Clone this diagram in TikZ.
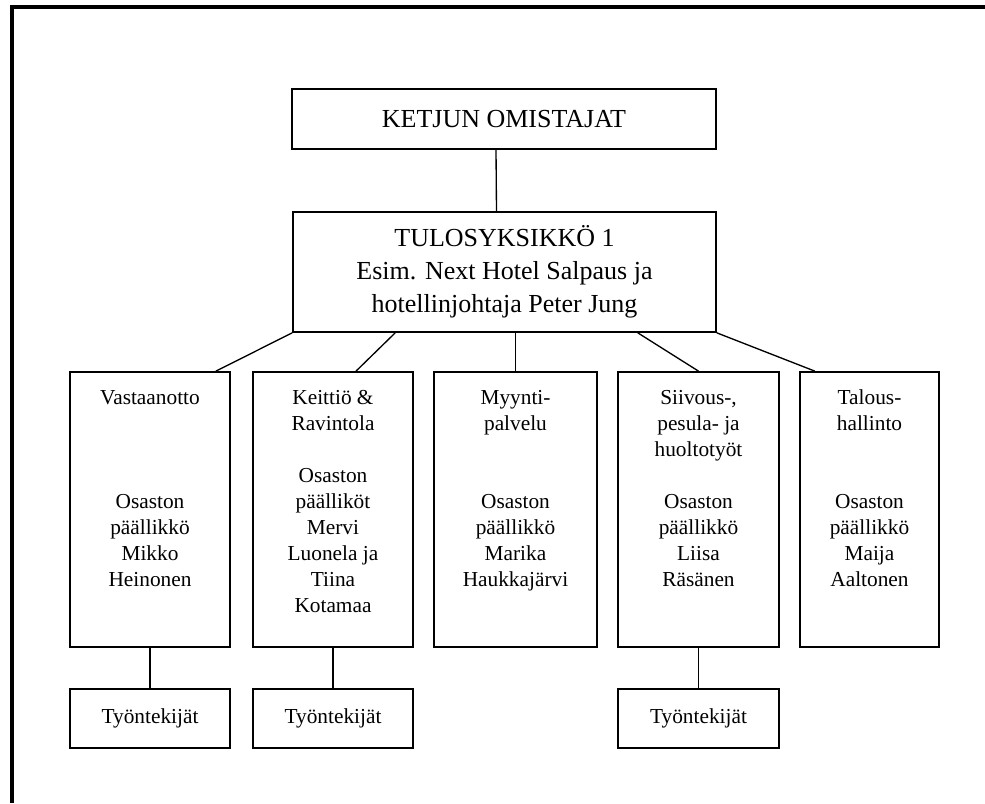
\documentclass[tikz,border=0pt]{standalone}
\usepackage{fontspec}
\setmainfont{Liberation Serif}
\usetikzlibrary{positioning}
\begin{document}
\begin{tikzpicture}[x=0.75pt,y=-0.75pt,
  topbox/.style={draw,line width=1.3pt,align=center,font=\fontsize{19.5}{24.75}\selectfont},
  deptbox/.style={draw,line width=1.3pt,minimum height=206.25pt},
  depttext/.style={anchor=north,align=center,inner sep=0pt,font=\fontsize{16}{19.5}\selectfont},
  workbox/.style={draw,line width=1.3pt,minimum height=44.25pt,font=\fontsize{16}{19.5}\selectfont},
  link/.style={line width=1pt}]
  \useasboundingbox (0,0) rectangle (985,803);
  \draw[line width=2.4pt] (12,803) -- (12,7) -- (985,7);
  \node[topbox,minimum width=318pt,minimum height=45pt] (owners) at (504,119) {KETJUN OMISTAJAT};
  \node[topbox,minimum width=317.25pt,minimum height=90pt] (unit) at (504.5,272)
    {TULOSYKSIKKÖ 1\\Esim. Next Hotel Salpaus ja\\hotellinjohtaja Peter Jung};
  \node[deptbox,minimum width=120pt] (vast) at (150,509.5) {};
  \node[deptbox,minimum width=120pt] (keit) at (333,509.5) {};
  \node[deptbox,minimum width=122.25pt] (myyn) at (515.5,509.5) {};
  \node[deptbox,minimum width=120.75pt] (siiv) at (698.5,509.5) {};
  \node[deptbox,minimum width=104.25pt] (talo) at (869.5,509.5) {};
  \node[depttext,below=14pt of vast.north] (vasttxt)
    {Vastaanotto\\[58.5pt]Osaston\\päällikkö\\Mikko\\Heinonen};
  \node[depttext,below=14pt of keit.north] (keittxt)
    {Keittiö \&\\Ravintola\\[19.5pt]Osaston\\päälliköt\\Mervi\\Luonela ja\\Tiina\\Kotamaa};
  \node[depttext,below=14pt of myyn.north] (myyntxt)
    {Myynti-\\palvelu\\[39pt]Osaston\\päällikkö\\Marika\\Haukkajärvi};
  \node[depttext,below=14pt of siiv.north] (siivtxt)
    {Siivous-,\\pesula- ja\\huoltotyöt\\[19.5pt]Osaston\\päällikkö\\Liisa\\Räsänen};
  \node[depttext,below=14pt of talo.north] (talotxt)
    {Talous-\\hallinto\\[39pt]Osaston\\päällikkö\\Maija\\Aaltonen};
  \node[workbox,minimum width=120pt] (vastwork) at (150,718.5) {Työntekijät};
  \node[workbox,minimum width=120pt] (keitwork) at (333,718.5) {Työntekijät};
  \node[workbox,minimum width=120.75pt] (siivwork) at (698.5,718.5) {Työntekijät};
  % connectors
  \draw[link] ([xshift=-6pt]owners.south) -- ([xshift=-6pt]unit.north);
  \draw[link] (unit.south west) -- ([xshift=-11.25pt]vast.north east);
  \draw[link] ([xshift=-82pt]unit.south) -- ([xshift=17.25pt]keit.north);
  \draw[link] (myyn.north) -- (myyn.north |- unit.south);
  \draw[link] ([xshift=100pt]unit.south) -- (siiv.north);
  \draw[link] (unit.south east) -- ([xshift=-41pt]talo.north);
  \draw[link] (vast.south) -- (vastwork.north);
  \draw[link] (keit.south) -- (keitwork.north);
  \draw[link] (siiv.south) -- (siivwork.north);
\end{tikzpicture}
\end{document}
